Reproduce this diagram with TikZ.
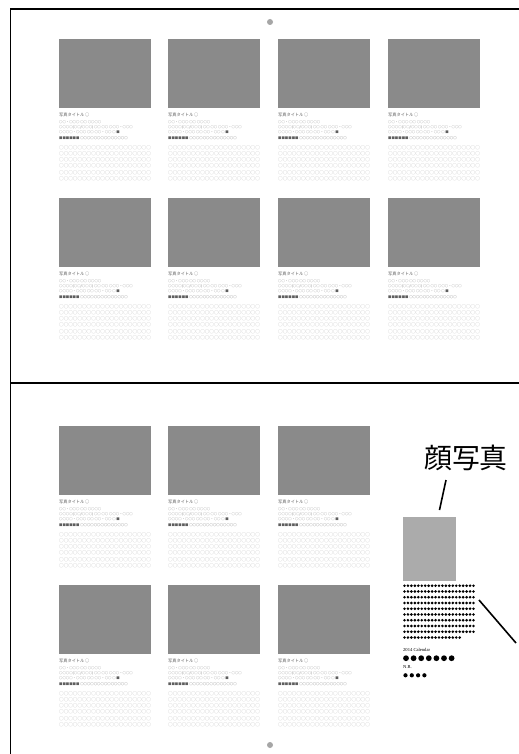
\documentclass[tikz,border=0pt]{standalone}
\usepackage{fontspec}
\setmainfont{Liberation Serif}
\newfontfamily\jp{Noto Sans CJK JP}
\definecolor{photogray}{HTML}{8A8A8A}
\definecolor{facegray}{HTML}{ABABAB}
\definecolor{captext}{HTML}{5E5E5E}
\definecolor{gridtext}{HTML}{AEAEAE}
\tikzset{
  frameline/.style={line width=1.4bp, black},
  photo/.style={fill=photogray, draw=none, inner sep=0, minimum width=92bp, minimum height=69bp, anchor=north west},
  face/.style={fill=facegray, draw=none, inner sep=0, minimum width=53bp, minimum height=64bp, anchor=north west},
  captitle/.style={anchor=north west, inner sep=0, text=captext, font=\jp\fontsize{4.2}{5}\selectfont},
  capline/.style={anchor=north west, inner sep=0, text=captext, font=\jp\fontsize{3.4}{4}\selectfont},
  gridblock/.style={anchor=north west, inner sep=0, text=gridtext, align=left, font=\jp\fontsize{4.6}{6.3}\selectfont},
  pin/.style={fill=gray!70, draw=none, circle, inner sep=0, minimum size=6bp},
  callout/.style={line width=1.6bp, black},
  bigtext/.style={inner sep=0, font=\jp\fontsize{28}{30}\selectfont},
  smalllabel/.style={anchor=north west, inner sep=0, font=\fontsize{4.6}{5}\selectfont}
}
\newcommand\mycard[3]{%
  \node[photo] (#3p) at (#1,#2) {};
  \node[captitle] (#3a) at (#1,#2+74) {写真タイトル\,○};
  \node[capline] (#3b) at (#1,#2+81) {○○・○○○ ○○ ○○○○};
  \node[capline] (#3c) at (#1,#2+86) {○○○○(○○/○○○) ○○ ○○ ○○○・○○○};
  \node[capline] (#3d) at (#1,#2+91) {○○○○・○○○ ○○ ○○・○○ ○ ■};
  \node[capline] (#3e) at (#1,#2+97) {\bfseries ■■■■■■ ○○○○○○○○○○○○○○};
  \node[gridblock] (#3g) at (#1,#2+106) {○○○○○○○○○○○○○○○○○○○○\\○○○○○○○○○○○○○○○○○○○○\\○○○○○○○○○○○○○○○○○○○○\\○○○○○○○○○○○○○○○○○○○○\\○○○○○○○○○○○○○○○○○○○○\\○○○○○○○○○○○○○○○○○○○○};
}
\begin{document}
\begin{tikzpicture}[x=1bp,y=-1bp]
\useasboundingbox (0,0) rectangle (519,754);
\fill[white] (0,0) rectangle (519,754);
% frame
\coordinate (ftr) at (519,9);
\coordinate (ftl) at (10.5,9);
\coordinate (fbl) at (10.5,754);
\coordinate (dl) at (10.5,383);
\coordinate (dr) at (519,383);
\draw[frameline] (ftr) -- (ftl) -- (fbl);
\draw[frameline] (dl) -- (dr);
% pins
\node[pin] (pintop) at (270,22) {};
\node[pin] (pinbot) at (270,745) {};
% top panel
\mycard{59}{39}{ta}
\mycard{168}{39}{tb}
\mycard{278}{39}{tc}
\mycard{388}{39}{td}
\mycard{59}{198}{te}
\mycard{168}{198}{tf}
\mycard{278}{198}{tg}
\mycard{388}{198}{th}
% bottom panel
\mycard{59}{426}{ba}
\mycard{168}{426}{bb}
\mycard{278}{426}{bc}
\mycard{59}{585}{bd}
\mycard{168}{585}{be}
\mycard{278}{585}{bf}
% face photo
\node[face] (facep) at (403,517) {};
\node[bigtext] (facelbl) at (466,458) {顔写真};
\coordinate (fl1) at (446,480);
\coordinate (fl2) at (439.5,510);
\draw[callout] (fl1) -- (fl2);
% dot grid
\foreach \r in {0,...,8} {
  \foreach \c in {0,...,20} {
    \fill (404.5+\c*3.45, 585.7+\r*5.75) circle (1.45bp);
  }
}
\foreach \c in {0,...,16} {
  \fill (404.5+\c*3.45, 637.5) circle (1.45bp);
}
\node[smalllabel] (cal) at (403,648.5) {2014 Calendar};
\foreach \c in {0,...,6} {
  \fill (406+\c*7.6, 658.2) circle (2.9bp);
}
\node[smalllabel] (nr) at (403,665.5) {N.R.};
\foreach \c in {0,...,3} {
  \fill (405.5+\c*6.3, 675.3) circle (2.1bp);
}
\coordinate (dg1) at (479,600);
\coordinate (dg2) at (516,643);
\draw[callout] (dg1) -- (dg2);
\end{tikzpicture}
\end{document}
